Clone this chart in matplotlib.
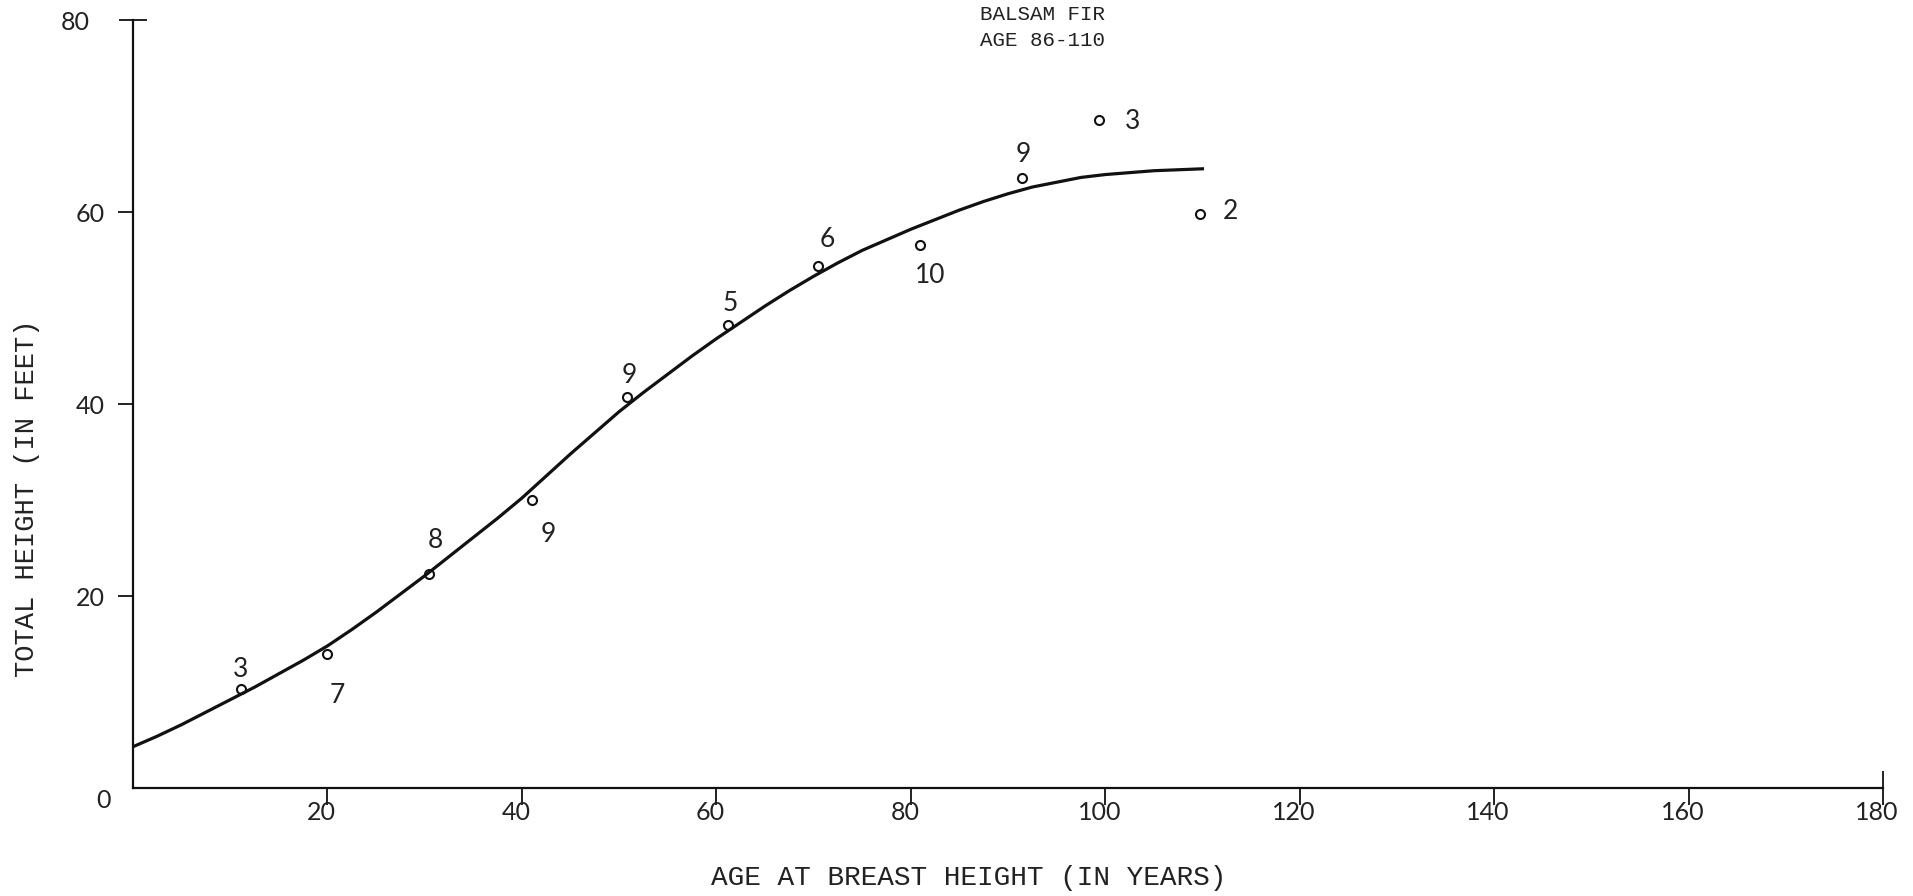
from matplotlib import pyplot as plt
from matplotlib import transforms

# curve fitted to the plot means (age, height)
curve_age = [0, 2.5, 5, 7.5, 10, 12.5, 15, 17.5, 20, 22.5, 25, 27.5, 30, 32.5, 35, 37.5, 40, 42.5, 45, 47.5,
             50, 52.5, 55, 57.5, 60, 62.5, 65, 67.5, 70, 72.5, 75, 77.5, 80, 82.5, 85, 87.5, 90, 92.5, 95,
             97.5, 100, 102.5, 105, 107.5, 110]
curve_height = [4.3, 5.4, 6.6, 7.9, 9.2, 10.5, 11.9, 13.3, 14.8, 16.5, 18.3, 20.2, 22.1, 24.1, 26.1, 28.1,
                30.2, 32.5, 34.8, 37.0, 39.2, 41.2, 43.1, 45.0, 46.8, 48.5, 50.2, 51.8, 53.3, 54.7, 56.0,
                57.1, 58.2, 59.2, 60.2, 61.1, 61.9, 62.6, 63.1, 63.6, 63.9, 64.1, 64.3, 64.4, 64.5]

# plot means and number of plots in each class
point_age = [11.1, 20.0, 30.4, 41.0, 50.8, 61.2, 70.5, 80.9, 91.4, 99.4, 109.7]
point_height = [10.3, 14.0, 22.3, 30.0, 40.7, 48.2, 54.4, 56.6, 63.5, 69.6, 59.8]
point_count = ['3', '7', '8', '9', '9', '5', '6', '10', '9', '3', '2']
# where each count is written, in points from its circle
count_offset = [(0, 14), (7, -30), (5, 24), (12, -25), (2, 16), (1.5, 16), (6, 19), (8, -22), (1, 17), (24, -1), (22, 2)]

x_ticks = [20, 40, 60, 80, 100, 120, 140, 160]
y_ticks = [20, 40, 60]

mono = 'Liberation Mono'
digits = 'Lato'
ink = '#111111'
type_ink = '#222222'

fig = plt.figure(figsize=(19.13, 8.96), dpi=100)
ax = fig.add_axes([133 / 1913, 1 - 788 / 896, 1750 / 1913, 768 / 896])

ax.plot(curve_age, curve_height, color=ink, lw=2.3, solid_joinstyle='round', zorder=2)
ax.plot(point_age, point_height, 'o', mfc='none', mec=ink, ms=6.5, mew=1.5, zorder=3)
for x, y, n, off in zip(point_age, point_height, point_count, count_offset):
    ax.annotate(n, (x, y), xytext=off, textcoords='offset points', ha='center', va='center',
                fontsize=19, color='#222222', family=digits)

ax.set_xlim(0, 180)
ax.set_ylim(0, 80)
for side in ['top', 'right']:
    ax.spines[side].set_visible(False)
for side in ['left', 'bottom']:
    ax.spines[side].set_linewidth(1.6)
    ax.spines[side].set_color(ink)

ax.set_xticks(x_ticks, [str(t) for t in x_ticks])
ax.set_xticks([180], ['180'], minor=True)
ax.set_yticks(y_ticks, [str(t) for t in y_ticks])
ax.set_yticks([80], ['80'], minor=True)

ax.tick_params(axis='x', which='major', direction='out', length=12, width=1.3, pad=-3,
               color=ink, labelcolor='#222222')
ax.tick_params(axis='x', which='minor', direction='inout', length=24, width=1.3, pad=-3,
               color=ink, labelcolor='#222222')
ax.tick_params(axis='y', which='major', direction='out', length=11, width=1.3, pad=9,
               color=ink, labelcolor='#222222')
ax.tick_params(axis='y', which='minor', direction='inout', length=20, width=1.3, pad=21,
               color=ink, labelcolor='#222222')

shift = transforms.ScaledTranslation(-6 / 100, 0, fig.dpi_scale_trans)
for lab in ax.get_xticklabels(which='both'):
    lab.set_fontsize(18)
    lab.set_fontfamily(digits)
    lab.set_transform(lab.get_transform() + shift)
for lab in ax.get_yticklabels(which='both'):
    lab.set_fontsize(18)
    lab.set_fontfamily(digits)

# single zero shared by both axes
ax.annotate('0', (0, 0), xytext=(-21, -9), textcoords='offset points', ha='center', va='center',
            fontsize=18, color='#222222', family=digits)

fig.text(27 / 1913, 1 - 498 / 896, 'TOTAL HEIGHT (IN FEET)', rotation=90, ha='center', va='center',
         fontsize=19.5, family=mono, color=type_ink)
fig.text(969 / 1913, 1 - 878 / 896, 'AGE AT BREAST HEIGHT (IN YEARS)', ha='center', va='center',
         fontsize=20, family=mono, color=type_ink)
fig.text(1043 / 1913, 1 - 15 / 896, 'BALSAM FIR', ha='center', va='center', fontsize=15, family=mono,
         color=type_ink)
fig.text(1043 / 1913, 1 - 40 / 896, 'AGE 86-110', ha='center', va='center', fontsize=15, family=mono,
         color=type_ink)

fig.savefig('out.png', dpi=100)
